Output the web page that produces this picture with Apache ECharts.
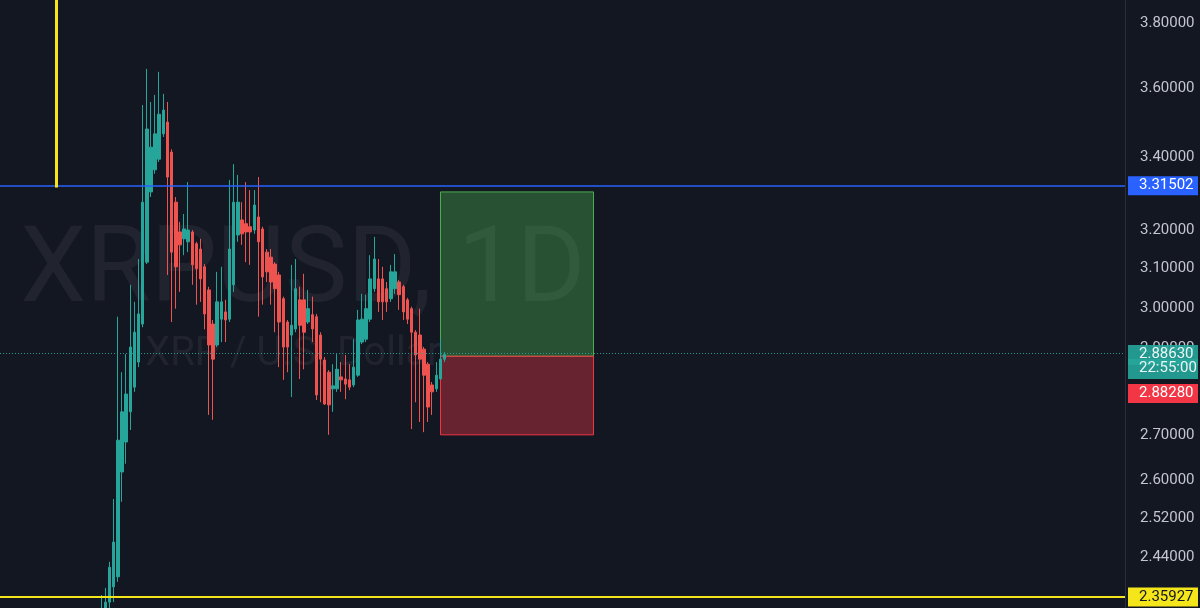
<!DOCTYPE html>
<html>
<head>
<meta charset="utf-8">
<title>XRPUSD, 1D</title>
<script src="https://cdn.jsdelivr.net/npm/echarts@6/dist/echarts.min.js"></script>
<style>
  html, body { margin: 0; padding: 0; background: #131722; }
  #chart { width: 1200px; height: 608px; }
</style>
</head>
<body>
<div id="chart"></div>
<script>
// XRP / U.S. Dollar, daily bars
const opens = [2.273,2.335,2.350,2.380,2.400,2.618,2.684,2.752,2.809,2.868,
  2.960,3.116,3.303,3.364,3.394,3.466,3.500,3.414,3.275,3.195,
  3.177,3.169,3.195,3.164,3.150,3.104,3.045,2.960,2.909,2.972,
  2.990,2.972,3.058,3.187,3.227,3.217,3.209,3.200,3.235,3.203,
  3.142,3.129,3.111,3.083,3.023,2.965,2.933,2.948,3.020,3.020,
  2.965,2.983,2.978,2.933,2.873,2.844,2.805,2.805,2.833,2.828,
  2.826,2.814,2.837,2.916,2.923,2.972,3.048,3.073,3.073,3.048,
  3.023,3.048,3.065,3.053,3.020,2.998,2.940,2.933,2.899,2.863,
  2.814,2.805,2.828,2.875];
const closes = [2.335,2.350,2.419,2.470,2.688,2.752,2.793,2.904,2.940,2.985,
  3.275,3.480,3.428,3.466,3.523,3.535,3.344,3.142,3.104,3.161,
  3.203,3.200,3.109,3.099,3.073,2.985,2.909,2.875,3.015,3.015,
  2.970,3.150,3.275,3.275,3.190,3.195,3.195,3.267,3.169,3.078,
  3.091,3.065,3.048,2.965,2.904,2.904,2.957,3.048,2.957,2.940,
  2.998,2.948,2.791,2.875,2.770,2.768,2.812,2.851,2.826,2.816,
  2.809,2.856,2.970,2.972,2.998,3.073,3.124,3.015,3.015,3.015,
  3.091,3.091,3.033,2.990,2.972,2.940,2.885,2.875,2.837,2.763,
  2.798,2.837,2.875,2.8863];
const lows = [2.254,2.302,2.327,2.350,2.390,2.554,2.636,2.711,2.798,2.856,
  2.952,3.111,3.289,3.353,3.386,3.457,3.083,2.965,2.998,3.040,
  3.134,3.142,3.058,3.008,3.015,2.947,2.745,2.734,2.904,2.916,
  2.916,2.965,3.040,3.169,3.161,3.116,3.109,3.190,2.978,3.008,
  3.065,3.008,2.940,2.856,2.826,2.844,2.786,2.940,2.828,2.851,
  2.960,2.916,2.779,2.774,2.768,2.700,2.752,2.798,2.798,2.781,
  2.802,2.809,2.833,2.911,2.916,2.965,3.040,2.990,2.970,2.990,
  3.015,3.035,2.995,2.970,2.960,2.713,2.774,2.729,2.706,2.729,
  2.745,2.798,2.828,2.868];
const highs = [2.364,2.378,2.430,2.560,2.978,2.844,2.887,3.058,3.015,3.124,
  3.550,3.658,3.559,3.580,3.649,3.583,3.559,3.422,3.289,3.222,
  3.243,3.330,3.200,3.169,3.177,3.111,3.053,2.970,3.091,3.104,
  3.020,3.336,3.380,3.350,3.275,3.330,3.308,3.308,3.344,3.209,
  3.150,3.150,3.116,3.091,3.028,2.970,3.109,3.124,3.053,3.086,
  3.045,3.028,2.985,2.940,2.880,2.849,2.863,2.887,2.868,2.885,
  2.863,2.923,2.995,3.035,3.033,3.134,3.182,3.124,3.104,3.065,
  3.109,3.137,3.070,3.058,3.025,3.003,2.945,2.998,2.904,2.868,
  2.821,2.868,2.923,2.892];

// price scale labels
const tickValues = [3.8, 3.6, 3.4, 3.2, 3.1, 3.0, 2.9, 2.8, 2.7, 2.6, 2.52, 2.44];

// drawn levels and price tags
const resistance = 3.31502;
const support = 2.35927;
const lastPrice = 2.8863;
const countdown = '22:55:00';
const prevPrice = 2.8828;

// long position tool
const entry = 2.882;
const target = 3.303;
const stop = 2.700;

// bar layout of the time scale
const totalBars = 272;
const firstBar = 24;
const positionFrom = 106;
const positionTo = 143;
const markerBar = 13;

const priceMin = 2.3386;
const priceMax = 3.8732;

const UP = '#26a69a';
const DOWN = '#ef5350';
const FONT = 'Roboto';

const bars = [];
for (let i = 0; i < totalBars; i++) bars.push(String(i));

const ohlc = [];
for (let i = 0; i < firstBar; i++) ohlc.push('-');
for (let i = 0; i < opens.length; i++) {
  ohlc.push([opens[i], closes[i], lows[i], highs[i]]);
}

const tagBase = {
  fontFamily: FONT, fontSize: 15, lineHeight: 14,
  width: 56, padding: [2, 3, 2, 11], color: '#ffffff'
};

const chart = echarts.init(document.getElementById('chart'), null, { renderer: 'canvas' });

chart.setOption({
  animation: false,
  backgroundColor: '#131722',
  grid: { left: 0, right: 75, top: 0, bottom: 0, containLabel: false, outerBoundsMode: 'none' },
  graphic: [
    {
      type: 'text', x: 303, y: 275, z: -1, silent: true,
      style: { text: 'XRPUSD, 1D', fill: 'rgba(178,181,190,0.09)', fontFamily: FONT,
               fontSize: 105, align: 'center', verticalAlign: 'middle' }
    },
    {
      type: 'text', x: 293, y: 355, z: -1, silent: true,
      style: { text: 'XRP / U.S. Dollar', fill: 'rgba(178,181,190,0.09)', fontFamily: FONT,
               fontSize: 40, align: 'center', verticalAlign: 'middle' }
    }
  ],
  xAxis: {
    type: 'category', data: bars, boundaryGap: true, show: false
  },
  yAxis: {
    type: 'log', logBase: 10, min: priceMin, max: priceMax, position: 'right',
    axisLine: { show: true, lineStyle: { color: '#2a2e39', width: 1 } },
    axisTick: { show: false },
    splitLine: { show: false },
    axisLabel: {
      customValues: tickValues,
      formatter: v => Number(v).toFixed(5),
      color: '#c3c6ce', fontFamily: FONT, fontSize: 15, margin: 15,
      hideOverlap: false, showMinLabel: true, showMaxLabel: true
    }
  },
  series: [{
    type: 'candlestick',
    data: ohlc,
    barWidth: 3,
    clip: true,
    itemStyle: { color: UP, color0: DOWN, borderColor: UP, borderColor0: DOWN, borderWidth: 1 },
    markArea: {
      silent: true,
      label: { show: false },
      data: [
        [
          { coord: [positionFrom, target], itemStyle: { color: 'rgba(76,175,80,0.38)', borderColor: '#4caf50', borderWidth: 1 } },
          { coord: [positionTo, entry] }
        ],
        [
          { coord: [positionFrom, entry], itemStyle: { color: 'rgba(242,54,69,0.38)', borderColor: '#f23645', borderWidth: 1 } },
          { coord: [positionTo, stop] }
        ]
      ]
    },
    markLine: {
      silent: true,
      symbol: ['none', 'none'],
      animation: false,
      data: [
        {
          yAxis: resistance,
          lineStyle: { color: '#2962ff', width: 1.5, type: 'solid' },
          label: {
            show: true, position: 'end', distance: 3,
            formatter: () => '{b|' + resistance.toFixed(5) + '}',
            rich: { b: Object.assign({}, tagBase, { backgroundColor: '#2962ff' }) }
          }
        },
        {
          yAxis: support,
          lineStyle: { color: '#f5e51b', width: 2, type: 'solid' },
          label: {
            show: true, position: 'end', distance: 3,
            formatter: () => '{y|' + support.toFixed(5) + '}',
            rich: { y: Object.assign({}, tagBase, { backgroundColor: '#f5e51b', color: '#131722' }) }
          }
        },
        {
          yAxis: lastPrice,
          lineStyle: { color: UP, width: 1, type: [1, 2], opacity: 0.9 },
          label: {
            show: true, position: 'end', distance: 3,
            formatter: () => '{s| }\n{t|' + lastPrice.toFixed(5) + '}\n{t|' + countdown + '}',
            rich: {
              s: { lineHeight: 18, fontSize: 10 },
              t: Object.assign({}, tagBase, { backgroundColor: UP, padding: [2, 3, 3, 11] })
            }
          }
        },
        {
          yAxis: prevPrice,
          lineStyle: { color: 'rgba(0,0,0,0)', width: 0 },
          label: {
            show: true, position: 'end', distance: 3,
            formatter: () => '{s| }\n{r|' + prevPrice.toFixed(5) + '}',
            rich: {
              s: { lineHeight: 73, fontSize: 10 },
              r: Object.assign({}, tagBase, { backgroundColor: '#f23645' })
            }
          }
        },
        [
          { coord: [markerBar, resistance], lineStyle: { color: '#f5e51b', width: 3, type: 'solid' }, label: { show: false } },
          { coord: [markerBar, priceMax] }
        ]
      ]
    }
  }]
});
</script>
</body>
</html>
